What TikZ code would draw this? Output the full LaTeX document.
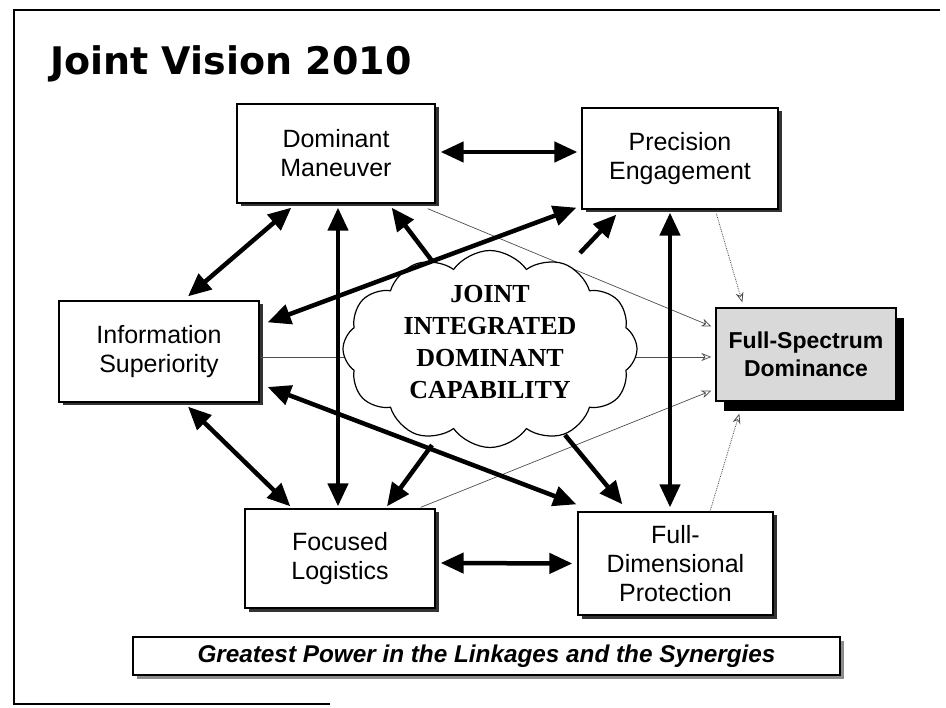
\documentclass[tikz,border=0pt]{standalone}
\usepackage{fontspec}
\setmainfont{Liberation Sans}
\newfontfamily\cloudfont{Liberation Serif}
\newfontfamily\titlefont{DejaVu Sans}
\usetikzlibrary{arrows.meta,shapes.symbols,shadows,calc}
\tikzset{
  tipT/.tip={Triangle[length=23pt,width=20pt]},
  tipO/.tip={Stealth[open,length=10pt,width=8pt]},
}
\begin{document}
\begin{tikzpicture}[x=1pt,y=-1pt,
  box/.style={draw, line width=1.3pt, fill=white, rectangle, align=center, inner sep=0pt,
    font=\fontsize{25}{29}\selectfont,
    drop shadow={shadow xshift=3.5pt, shadow yshift=-3.5pt, fill=black!80, opacity=1}},
  fsdbox/.style={draw, line width=1.3pt, fill=black!15, rectangle, align=center, inner sep=0pt,
    font=\bfseries\fontsize{23}{28}\selectfont,
    drop shadow={shadow xshift=8pt, shadow yshift=-10pt, fill=black, opacity=1}},
  banner/.style={draw, line width=1.3pt, fill=white, rectangle, inner sep=0pt,
    font=\bfseries\itshape\fontsize{24.3}{28}\selectfont,
    drop shadow={shadow xshift=4pt, shadow yshift=-4pt, fill=black!45, opacity=1}},
  big/.style={line width=4.5pt, tipT-tipT},
  bigone/.style={line width=4.5pt, -tipT},
  thinarr/.style={line width=0.7pt, black!70, -tipO},
  dotarr/.style={line width=0.8pt, black!70, densely dotted, -tipO},
  frameline/.style={line width=1.3pt},
]
\useasboundingbox (0,0) rectangle (946,708);
% frame
\draw[frameline] (940,10) -- (14,10) -- (14,704) -- (330,704);
% title
\node[anchor=base west, inner sep=0pt, font=\titlefont\bfseries\fontsize{38}{44}\selectfont] (title) at (50,75) {Joint Vision 2010};

% boxes
\node[box, minimum width=198pt, minimum height=99pt] (dm) at (336,153.5) {Dominant\\Maneuver};
\node[box, minimum width=196pt, minimum height=101pt] (pe) at (680,158.5) {Precision\\Engagement};
\node[box, minimum width=200pt, minimum height=101pt] (is) at (159,351.5) {Information\\Superiority};
\node[box, minimum width=190pt, minimum height=99pt] (fl) at (340,558.5) {Focused\\Logistics};
\node[box, minimum width=195pt, minimum height=103pt] (fdp) at (675.5,563.5) {Full-\\Dimensional\\Protection};
\node[fsdbox, minimum width=180pt, minimum height=93pt] (fsd) at (806,354.5) {Full-Spectrum\\Dominance};
\node[banner, minimum width=707pt, minimum height=38pt] (ban) at (486.5,656) {Greatest Power in the Linkages and the Synergies};

% thin arrows to Full-Spectrum Dominance
\draw[thinarr] ($(dm.south east)+(-8,5)$) -- ($(fsd.north west)+(-4,19)$);
\draw[thinarr] ($(is.east)+(0,5.5)$) -- ($(fsd.west)+(-4,2.5)$);
\draw[thinarr] ($(fl.north east)+(-15,-1)$) -- ($(fsd.south west)+(-4,-11)$);
\draw[dotarr] ($(fdp.north)+(34.5,0)$) -- ($(fsd.south west)+(24,12)$);
\draw[dotarr] ($(pe.south west)+(135,4)$) -- ($(fsd.north west)+(27,-5)$);

% cloud
\coordinate (cc) at (490,349);
\draw[bigone] ($(cc)+(-45,-71)$) -- ($(dm.south east)+(-44,4)$);
\draw[bigone] ($(cc)+(90,-96)$) -- ($(pe.south west)+(35,5)$);
\draw[bigone] ($(cc)+(-58,96)$) -- ($(fl.north)+(47,-2)$);
\draw[bigone] ($(cc)+(75,86)$) -- ($(fdp.north west)+(45,-7)$);
\node[cloud, draw, fill=white, line width=1.2pt, cloud puffs=12, cloud puff arc=110, aspect=1.5,
      minimum width=294pt, minimum height=197pt, inner sep=0pt] (cl) at (cc) {};
\node[align=center, font=\cloudfont\bfseries\fontsize{26}{32}\selectfont, inner sep=0pt] (cltext) at (490,342)
  {JOINT\\INTEGRATED\\DOMINANT\\CAPABILITY};

% thick double arrows
\draw[big] ($(dm.east)+(5,-1.5)$) -- ($(pe.west)+(-4,-6.5)$);
\draw[big] ($(dm.south west)+(55,4)$) -- ($(is.north)+(29,-4)$);
\draw[big] ($(dm.south)+(2,4)$) -- ($(fl.north)+(-2,-2)$);
\draw[big] ($(is.south)+(29,4)$) -- ($(fl.north west)+(46,-2)$);
\draw[big] ($(is.north east)+(8,22)$) -- ($(pe.south west)+(-5,-2)$);
\draw[big] ($(is.east)+(8,35.5)$) -- ($(fdp.north west)+(-1,-7)$);
\draw[big] ($(fl.east)+(5,4.5)$) -- ($(fdp.west)+(-5,0)$);
\draw[big] ($(pe.south)+(-10,3)$) -- ($(fdp.north)+(-5.5,-4)$);
\end{tikzpicture}
\end{document}
